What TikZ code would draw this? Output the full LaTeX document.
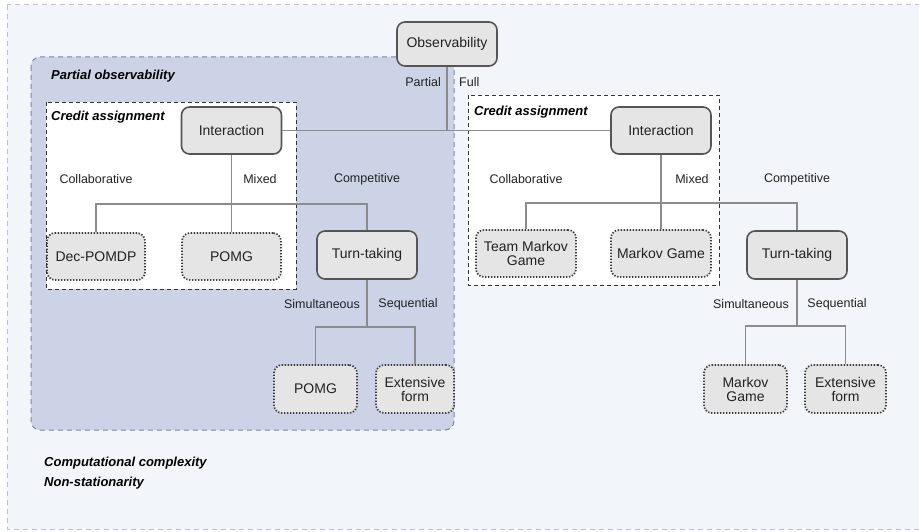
\documentclass[tikz,border=0pt]{standalone}
\usepackage{fontspec}
\setmainfont{Liberation Sans}
\definecolor{bgfill}{HTML}{F2F5FA}
\definecolor{bgline}{HTML}{B9C2D6}
\definecolor{pofill}{HTML}{CDD3E6}
\definecolor{poline}{HTML}{7C87A8}
\definecolor{nodefill}{HTML}{E5E5E5}
\definecolor{nodeline}{HTML}{555555}
\definecolor{leafline}{HTML}{3C3C3C}
\definecolor{conn}{HTML}{8C8C8C}
\definecolor{txt}{HTML}{222222}
\tikzset{
  mainnode/.style={draw=nodeline, line width=1.6pt, fill=nodefill, rounded corners=8pt,
    minimum width=100pt, minimum height=47pt, inner sep=2pt, align=center,
    font=\fontsize{14}{15}\selectfont, text=txt},
  leafnode/.style={draw=leafline, line width=1.7pt, dash pattern=on 1.4pt off 1.6pt, fill=nodefill, rounded corners=8pt,
    minimum height=47pt, inner sep=2pt, align=center,
    font=\fontsize{14}{14}\selectfont, text=txt},
  lbl/.style={font=\fontsize{12.5}{14}\selectfont, text=txt, inner sep=0pt},
  ttl/.style={font=\fontsize{13}{14}\selectfont\bfseries\itshape, text=black, inner sep=0pt, anchor=west},
  link/.style={draw=conn, line width=1.4pt},
  creditbox/.style={draw=black!80, line width=0.9pt, dash pattern=on 4pt off 3pt, fill=white},
}
\begin{document}
\begin{tikzpicture}[x=1pt,y=-1pt]
\useasboundingbox (0,0) rectangle (919,532);
% background
\draw[fill=bgfill, draw=bgline, line width=1pt, dash pattern=on 5pt off 4pt] (7,5) rectangle (925,529);
% partial observability region
\draw[fill=pofill, draw=poline, line width=1pt, dash pattern=on 5pt off 4pt, rounded corners=9pt] (31,57) rectangle (454,430);
% credit assignment boxes
\draw[creditbox] (46,102) rectangle (296,289);
\draw[creditbox] (468,95) rectangle (719,285);
% titles
\node[ttl] (tpo) at (51,76) {Partial observability};
\node[ttl] (tcl) at (51,117) {Credit assignment};
\node[ttl] (tcr) at (474,112) {Credit assignment};
\node[ttl] (tcc) at (44,463) {Computational complexity};
\node[ttl] (tns) at (44,483) {Non-stationarity};
% nodes
\node[mainnode, minimum height=44pt] (obs) at (447,44) {Observability};
\node[mainnode] (intL) at (231.5,130.5) {Interaction};
\node[mainnode] (intR) at (661,130.5) {Interaction};
\node[leafnode, minimum width=98pt] (dec) at (96,256.5) {Dec-POMDP};
\node[leafnode, minimum width=99pt] (pomgA) at (231.5,256.5) {POMG};
\node[mainnode, minimum height=48pt] (turnL) at (367,255) {Turn-taking};
\node[leafnode, minimum width=100pt] (team) at (526,253.5) {Team Markov\\Game};
\node[leafnode, minimum width=100pt] (mg) at (661,253.5) {Markov Game};
\node[mainnode, minimum height=48pt] (turnR) at (797,255) {Turn-taking};
\node[leafnode, minimum width=83pt, minimum height=48pt] (pomgB) at (315.5,389) {POMG};
\node[leafnode, minimum width=78pt, minimum height=48pt] (extL) at (415,389) {Extensive\\form};
\node[leafnode, minimum width=83pt, minimum height=48pt] (mgB) at (745.5,389) {Markov\\Game};
\node[leafnode, minimum width=81pt, minimum height=48pt] (extR) at (845.5,389) {Extensive\\form};
% junction coordinates
\coordinate (jObs) at (447,130.5);
\coordinate (jL) at (231.5,204);
\coordinate (jR) at (661,203);
\coordinate (jTL) at (367,327);
\coordinate (jTR) at (797,326);
% connectors
\draw[link] (intL.east) -- (intR.west);
\draw[link] (obs.south) -- (jObs);
\draw[link] (intL.south) -- (pomgA.north);
\draw[link] (dec.north) |- (jL) -| (turnL.north);
\draw[link] (intR.south) -- (mg.north);
\draw[link] (team.north) |- (jR) -| (turnR.north);
\draw[link] (turnL.south) -- (jTL);
\draw[link] (pomgB.north) |- (jTL) -| (extL.north);
\draw[link] (turnR.south) -- (jTR);
\draw[link] (mgB.north) |- (jTR) -| (extR.north);
% labels
\node[lbl, anchor=east] (lp) at (441,82) {Partial};
\node[lbl, anchor=west] (lf) at (459,82) {Full};
\node[lbl] (lcL) at (96,179) {Collaborative};
\node[lbl] (lmL) at (260,179) {Mixed};
\node[lbl] (lkL) at (367,179) {Competitive};
\node[lbl] (lcR) at (526,179) {Collaborative};
\node[lbl] (lmR) at (692,179) {Mixed};
\node[lbl] (lkR) at (797,179) {Competitive};
\node[lbl] (lsL) at (322,304) {Simultaneous};
\node[lbl] (lqL) at (408,304) {Sequential};
\node[lbl] (lsR) at (751,304) {Simultaneous};
\node[lbl] (lqR) at (837,304) {Sequential};
\end{tikzpicture}
\end{document}
